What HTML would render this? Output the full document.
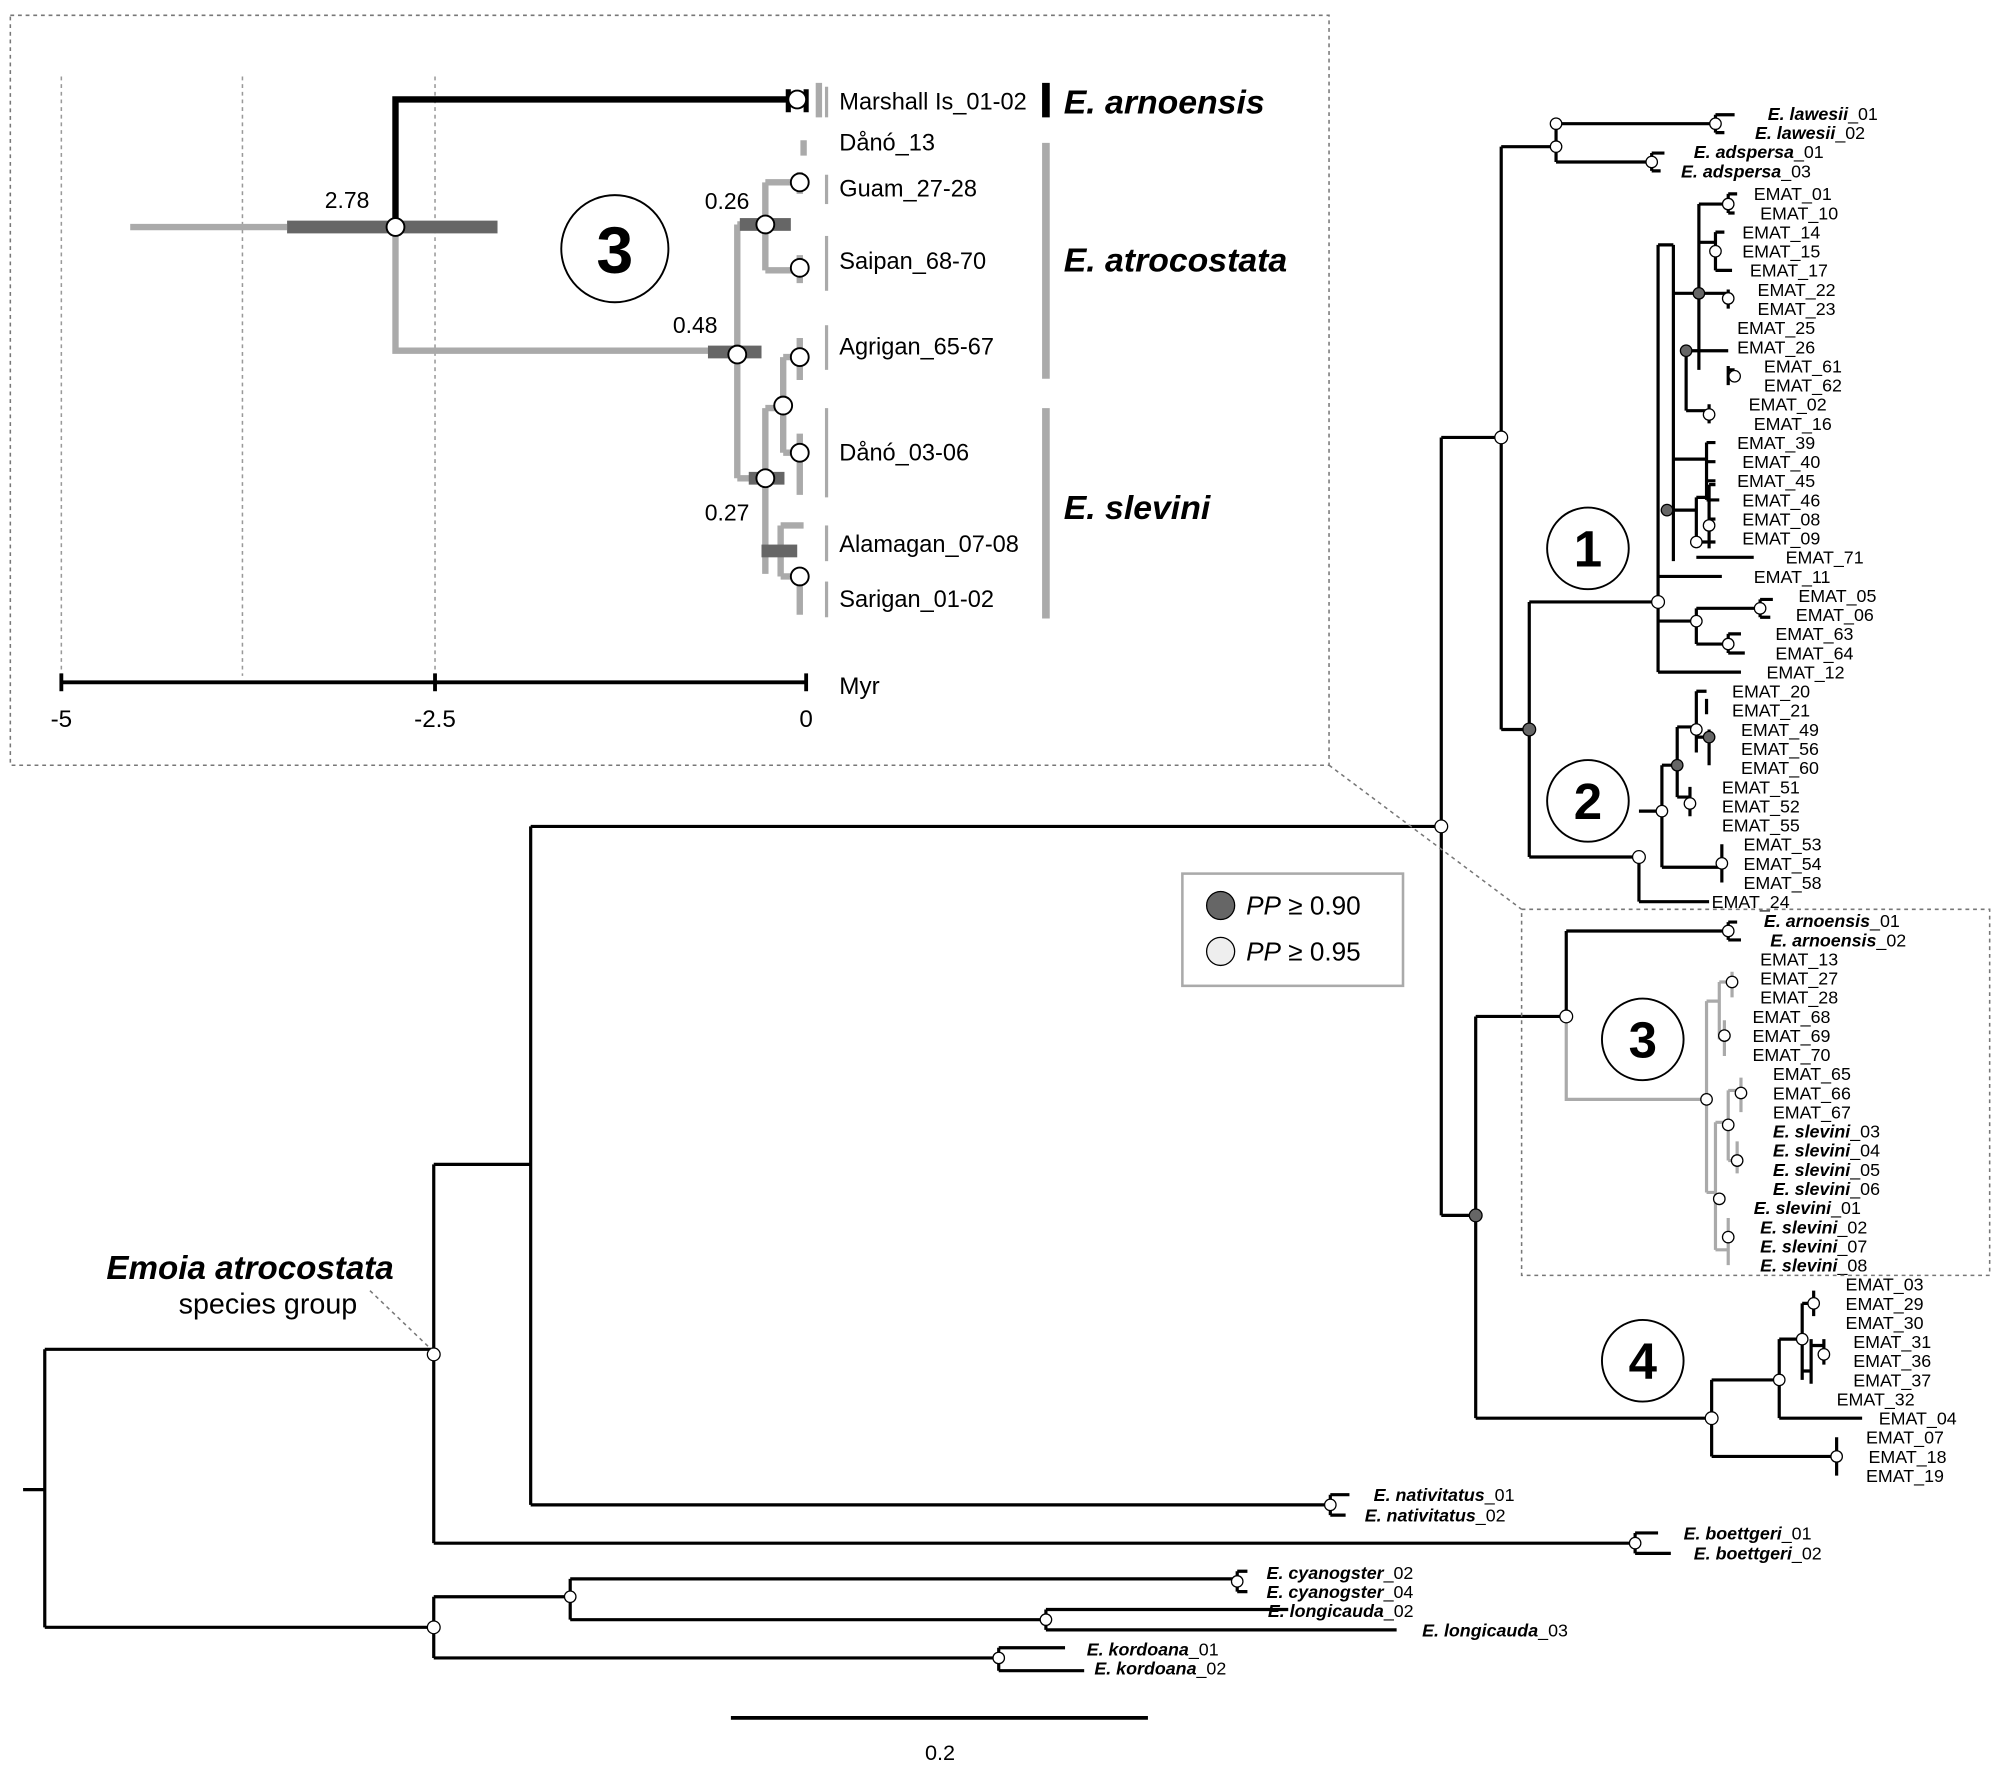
<!DOCTYPE html>
<html><head><meta charset="utf-8"><style>
html,body{margin:0;padding:0;background:#fff;}
svg{display:block;}
text{font-family:"Liberation Sans",sans-serif;fill:#000;}
.t{font-size:14px;}
.bi{font-weight:bold;font-style:italic;}
</style></head><body>
<svg width="2000" height="1774" viewBox="0 0 1568 1391" xmlns="http://www.w3.org/2000/svg">
<rect width="1568" height="1391" fill="#fff"/>
<!-- inset box -->
<rect x="8" y="12" width="1034" height="588" fill="none" stroke="#777" stroke-dasharray="3,3" stroke-width="1.2"/>
<g stroke="#999" stroke-dasharray="3,3" stroke-width="1.2">
<line x1="48" y1="60" x2="48" y2="530"/><line x1="190" y1="60" x2="190" y2="530"/><line x1="341" y1="60" x2="341" y2="530"/>
</g>
<g stroke="#000" stroke-width="3">
<line x1="48" y1="535" x2="632" y2="535"/>
<line x1="48" y1="528" x2="48" y2="542"/><line x1="341" y1="528" x2="341" y2="542"/><line x1="632" y1="528" x2="632" y2="542"/>
</g>
<text x="48" y="570" font-size="19" text-anchor="middle">-5</text>
<text x="341" y="570" font-size="19" text-anchor="middle">-2.5</text>
<text x="632" y="570" font-size="19" text-anchor="middle">0</text>
<text x="658" y="544" font-size="19">Myr</text>
<!-- inset tree -->
<line x1="102" y1="178" x2="225" y2="178" stroke="#aaa" stroke-width="5"/>
<rect x="225" y="173" width="165" height="10" fill="#666"/>
<path d="M310 178 V78 H625" stroke="#000" stroke-width="5" fill="none"/>
<g stroke="#aaa" stroke-width="5" fill="none">
<path d="M310 178 V275 H578"/>
<path d="M578 176 V375"/>
<path d="M578 176 H600 M600 143 V212 M600 143 H627 M600 212 H627"/>
<path d="M578 375 H600 M600 320 V450 M600 320 H614 M614 280 V355 M614 280 H627 M614 355 H627 M600 432 H612 M612 412 V452 M612 412 H630 M612 452 H627"/>
<path d="M627 135 V152 M627 200 V222 M627 265 V298 M627 340 V388 M627 445 V482 M630 110 V122"/>
<path d="M642 65 V92"/>
</g>
<rect x="555" y="271" width="42" height="10" fill="#666"/>
<rect x="580" y="171" width="40" height="10" fill="#666"/>
<rect x="587" y="370" width="28" height="10" fill="#666"/>
<rect x="597" y="427" width="28" height="10" fill="#666"/>
<path d="M618 70 V88 M632 70 V88" stroke="#000" stroke-width="4"/>
<g fill="#fff" stroke="#000" stroke-width="1.5">
<circle cx="310" cy="178" r="7"/><circle cx="578" cy="278" r="7"/><circle cx="600" cy="176" r="7"/><circle cx="600" cy="375" r="7"/>
<circle cx="625" cy="78" r="7"/><circle cx="627" cy="143" r="7"/><circle cx="627" cy="210" r="7"/><circle cx="627" cy="280" r="7"/>
<circle cx="614" cy="318" r="7"/><circle cx="627" cy="355" r="7"/><circle cx="627" cy="452" r="7"/>
</g>
<text x="272" y="163" font-size="18" text-anchor="middle">2.78</text>
<text x="545" y="261" font-size="18" text-anchor="middle">0.48</text>
<text x="570" y="164" font-size="18" text-anchor="middle">0.26</text>
<text x="570" y="408" font-size="18" text-anchor="middle">0.27</text>
<g font-size="18.5">
<text x="658" y="86">Marshall Is_01-02</text><text x="658" y="118">Dånó_13</text><text x="658" y="154">Guam_27-28</text>
<text x="658" y="211">Saipan_68-70</text><text x="658" y="278">Agrigan_65-67</text><text x="658" y="361">Dånó_03-06</text>
<text x="658" y="433">Alamagan_07-08</text><text x="658" y="476">Sarigan_01-02</text>
</g>
<g stroke="#aaa" stroke-width="2.5">
<line x1="648" y1="68" x2="648" y2="92"/><line x1="648" y1="137" x2="648" y2="160"/><line x1="648" y1="185" x2="648" y2="228"/>
<line x1="648" y1="255" x2="648" y2="290"/><line x1="648" y1="320" x2="648" y2="390"/><line x1="648" y1="412" x2="648" y2="440"/><line x1="648" y1="456" x2="648" y2="484"/>
</g>
<line x1="820" y1="65" x2="820" y2="92" stroke="#000" stroke-width="6"/>
<line x1="820" y1="112" x2="820" y2="297" stroke="#aaa" stroke-width="6"/>
<line x1="820" y1="320" x2="820" y2="485" stroke="#aaa" stroke-width="6"/>
<text x="834" y="89" font-size="26.5" class="bi">E. arnoensis</text>
<text x="834" y="213" font-size="26.5" class="bi">E. atrocostata</text>
<text x="834" y="407" font-size="26.5" class="bi">E. slevini</text>
<circle cx="482" cy="195" r="42" fill="#fff" stroke="#000" stroke-width="1.5"/>
<text x="482" y="214" font-size="52" font-weight="bold" text-anchor="middle">3</text>

<!-- main tree black -->
<g stroke="#000" stroke-width="2.5" fill="none">
<path d="M18 1168 H35 M35 1058 V1276 M35 1058 H340 M340 913 V1210 M340 913 H416 M416 648 V1180 M416 648 H1130 M416 1180 H1043 M340 1210 H1282"/>
<path d="M1043 1172 H1058 M1043 1188 H1055 M1043 1172 V1188 M1282 1202 H1300 M1282 1218 H1310 M1282 1202 V1218"/>
<path d="M35 1276 H340 M340 1252 V1300 M340 1252 H447 M447 1238 V1270 M447 1238 H970 M970 1232 V1248 M970 1232 H978 M970 1248 H978 M447 1270 H820 M820 1262 V1278 M820 1262 H1010 M820 1278 H1095 M340 1300 H783 M783 1292 V1310 M783 1292 H835 M783 1310 H850"/>
<path d="M1130 343 V953 M1130 343 H1177 M1177 115 V572 M1177 115 H1220 M1220 97 V127 M1220 97 H1345 M1345 90 V104 M1345 90 H1360 M1345 104 H1352 M1220 127 H1295 M1295 120 V134 M1295 120 H1305 M1295 134 H1302"/>
<path d="M1177 572 H1199 M1199 472 V672 M1199 472 H1300 M1199 672 H1285"/>
<!-- clade 1 -->
<path d="M1300 192 V527 M1300 527 H1365 M1300 487 H1330 M1330 477 V505 M1330 477 H1380 M1380 470 V484 M1380 470 H1390 M1380 484 H1388 M1330 505 H1355 M1355 497 V512 M1355 497 H1365 M1355 512 H1368 M1300 452 H1350 M1307 400 H1330 M1330 390 V425 M1330 390 H1340 M1340 380 V430 M1340 380 H1345 M1340 407 H1345 M1330 425 H1345 M1330 437 H1375"/>
<path d="M1300 192 H1312 M1312 192 V440 M1312 230 H1332 M1332 160 V290 M1332 160 H1355 M1355 152 V167 M1355 152 H1362 M1355 167 H1360 M1332 190 H1345 M1345 182 V212 M1345 182 H1352 M1345 212 H1358 M1332 230 H1355 M1355 227 V242 M1332 275 H1322 M1322 275 V322 M1322 275 H1355 M1355 287 V302 M1355 290 H1360 M1322 322 H1340 M1340 317 V332 M1312 360 H1338 M1338 347 V392 M1338 347 H1345 M1338 362 H1345 M1338 377 H1345 M1338 392 H1348"/>
<!-- clade 2 -->
<path d="M1285 672 V707 M1285 707 H1340 M1285 636 H1303 M1303 600 V680 M1303 600 H1315 M1315 570 V625 M1315 570 H1330 M1330 542 V590 M1330 542 H1338 M1338 548 V560 M1330 578 H1340 M1340 572 V600 M1315 625 H1325 M1325 617 V640 M1303 680 H1350 M1350 662 V692"/>
<!-- clade 3 black -->
<path d="M1130 953 H1157 M1157 797 V1112 M1157 797 H1228 M1228 730 V797 M1228 730 H1355 M1355 723 V737 M1355 723 H1362 M1355 737 H1365"/>
<!-- clade 4 -->
<path d="M1157 1112 H1342 M1342 1082 V1142 M1342 1082 H1395 M1395 1050 V1112 M1395 1112 H1460 M1395 1050 H1413 M1413 1022 V1082 M1413 1022 H1422 M1422 1012 V1032 M1413 1075 H1420 M1420 1050 V1085 M1420 1055 H1430 M1430 1050 V1070 M1342 1142 H1440 M1440 1127 V1157"/>
</g>
<g stroke="#aaa" stroke-width="2.5" fill="none">
<path d="M1228 797 V862 H1338 M1338 785 V935 M1338 785 H1348 M1348 770 V815 M1348 770 H1358 M1358 762 V782 M1348 810 H1352 M1352 800 V828 M1338 935 H1345 M1345 880 V980 M1345 880 H1355 M1355 855 V910 M1355 855 H1365 M1365 845 V872 M1355 910 H1362 M1362 895 V920 M1345 980 H1355 M1355 955 V992"/>
</g>
<!-- nodes -->
<g stroke="#000" stroke-width="1" >
<g fill="#fff">
<circle cx="1130" cy="648" r="5"/><circle cx="1177" cy="343" r="5"/><circle cx="1220" cy="97" r="4.5"/><circle cx="1220" cy="115" r="4.5"/><circle cx="1345" cy="97" r="4.5"/><circle cx="1295" cy="127" r="4.5"/>
<circle cx="1300" cy="472" r="5"/><circle cx="1330" cy="487" r="4.5"/><circle cx="1380" cy="477" r="4.5"/><circle cx="1355" cy="505" r="4.5"/><circle cx="1330" cy="425" r="4.5"/><circle cx="1340" cy="412" r="4.5"/>
<circle cx="1355" cy="160" r="4.5"/><circle cx="1345" cy="197" r="4.5"/><circle cx="1355" cy="234" r="4.5"/><circle cx="1360" cy="295" r="4.5"/><circle cx="1340" cy="325" r="4.5"/>
<circle cx="1285" cy="672" r="5"/><circle cx="1303" cy="636" r="4.5"/><circle cx="1330" cy="572" r="4.5"/><circle cx="1325" cy="630" r="4.5"/><circle cx="1350" cy="677" r="4.5"/>
<circle cx="1228" cy="797" r="5"/><circle cx="1355" cy="730" r="4.5"/><circle cx="1338" cy="862" r="4.5"/><circle cx="1358" cy="770" r="4.5"/><circle cx="1352" cy="812" r="4.5"/><circle cx="1365" cy="857" r="4.5"/><circle cx="1355" cy="882" r="4.5"/><circle cx="1362" cy="910" r="4.5"/><circle cx="1348" cy="940" r="4.5"/><circle cx="1355" cy="970" r="4.5"/>
<circle cx="1342" cy="1112" r="5"/><circle cx="1395" cy="1082" r="4.5"/><circle cx="1413" cy="1050" r="4.5"/><circle cx="1422" cy="1022" r="4.5"/><circle cx="1430" cy="1062" r="4.5"/><circle cx="1440" cy="1142" r="4.5"/>
<circle cx="1043" cy="1180" r="4.5"/><circle cx="1282" cy="1210" r="4.5"/><circle cx="340" cy="1062" r="5"/><circle cx="340" cy="1276" r="5"/><circle cx="447" cy="1252" r="4.5"/><circle cx="970" cy="1240" r="4.5"/><circle cx="820" cy="1270" r="4.5"/><circle cx="783" cy="1300" r="4.5"/>
</g>
<g fill="#666">
<circle cx="1199" cy="572" r="5"/><circle cx="1157" cy="953" r="5"/><circle cx="1332" cy="230" r="4.5"/><circle cx="1322" cy="275" r="4.5"/><circle cx="1307" cy="400" r="4.5"/><circle cx="1315" cy="600" r="4.5"/><circle cx="1340" cy="578" r="4.5"/>
</g></g>
<!-- labels -->
<g class="t">
<text x="1386" y="94"><tspan class="bi">E. lawesii</tspan>_01</text>
<text x="1376" y="109"><tspan class="bi">E. lawesii</tspan>_02</text>
<text x="1328" y="124"><tspan class="bi">E. adspersa</tspan>_01</text>
<text x="1318" y="139"><tspan class="bi">E. adspersa</tspan>_03</text>
</g>
<g class="t" font-size="14">
<text x="1375" y="157">EMAT_01</text><text x="1380" y="172">EMAT_10</text><text x="1366" y="187">EMAT_14</text><text x="1366" y="202">EMAT_15</text><text x="1372" y="217">EMAT_17</text>
<text x="1378" y="232">EMAT_22</text><text x="1378" y="247">EMAT_23</text><text x="1362" y="262">EMAT_25</text><text x="1362" y="277">EMAT_26</text><text x="1383" y="292">EMAT_61</text>
<text x="1383" y="307">EMAT_62</text><text x="1371" y="322">EMAT_02</text><text x="1375" y="337">EMAT_16</text><text x="1362" y="352">EMAT_39</text><text x="1366" y="367">EMAT_40</text>
<text x="1362" y="382">EMAT_45</text><text x="1366" y="397">EMAT_46</text><text x="1366" y="412">EMAT_08</text><text x="1366" y="427">EMAT_09</text><text x="1400" y="442">EMAT_71</text>
<text x="1375" y="457">EMAT_11</text><text x="1410" y="472">EMAT_05</text><text x="1408" y="487">EMAT_06</text><text x="1392" y="502">EMAT_63</text><text x="1392" y="517">EMAT_64</text>
<text x="1385" y="532">EMAT_12</text>
<text x="1358" y="547">EMAT_20</text><text x="1358" y="562">EMAT_21</text><text x="1365" y="577">EMAT_49</text><text x="1365" y="592">EMAT_56</text><text x="1365" y="607">EMAT_60</text>
<text x="1350" y="622">EMAT_51</text><text x="1350" y="637">EMAT_52</text><text x="1350" y="652">EMAT_55</text><text x="1367" y="667">EMAT_53</text><text x="1367" y="682">EMAT_54</text>
<text x="1367" y="697">EMAT_58</text><text x="1342" y="712">EMAT_24</text>
<text x="1383" y="727"><tspan class="bi">E. arnoensis</tspan>_01</text><text x="1388" y="742"><tspan class="bi">E. arnoensis</tspan>_02</text>
<text x="1380" y="757">EMAT_13</text><text x="1380" y="772">EMAT_27</text><text x="1380" y="787">EMAT_28</text><text x="1374" y="802">EMAT_68</text><text x="1374" y="817">EMAT_69</text><text x="1374" y="832">EMAT_70</text>
<text x="1390" y="847">EMAT_65</text><text x="1390" y="862">EMAT_66</text><text x="1390" y="877">EMAT_67</text>
<text x="1390" y="892"><tspan class="bi">E. slevini</tspan>_03</text><text x="1390" y="907"><tspan class="bi">E. slevini</tspan>_04</text><text x="1390" y="922"><tspan class="bi">E. slevini</tspan>_05</text><text x="1390" y="937"><tspan class="bi">E. slevini</tspan>_06</text>
<text x="1375" y="952"><tspan class="bi">E. slevini</tspan>_01</text><text x="1380" y="967"><tspan class="bi">E. slevini</tspan>_02</text><text x="1380" y="982"><tspan class="bi">E. slevini</tspan>_07</text><text x="1380" y="997"><tspan class="bi">E. slevini</tspan>_08</text>
<text x="1447" y="1012">EMAT_03</text><text x="1447" y="1027">EMAT_29</text><text x="1447" y="1042">EMAT_30</text><text x="1453" y="1057">EMAT_31</text><text x="1453" y="1072">EMAT_36</text>
<text x="1453" y="1087">EMAT_37</text><text x="1440" y="1102">EMAT_32</text><text x="1473" y="1117">EMAT_04</text><text x="1463" y="1132">EMAT_07</text><text x="1465" y="1147">EMAT_18</text><text x="1463" y="1162">EMAT_19</text>
<text x="1077" y="1177"><tspan class="bi">E. nativitatus</tspan>_01</text><text x="1070" y="1193"><tspan class="bi">E. nativitatus</tspan>_02</text>
<text x="1320" y="1207"><tspan class="bi">E. boettgeri</tspan>_01</text><text x="1328" y="1223"><tspan class="bi">E. boettgeri</tspan>_02</text>
<text x="993" y="1238"><tspan class="bi">E. cyanogster</tspan>_02</text><text x="993" y="1253"><tspan class="bi">E. cyanogster</tspan>_04</text>
<text x="994" y="1268"><tspan class="bi">E. longicauda</tspan>_02</text><text x="1115" y="1283"><tspan class="bi">E. longicauda</tspan>_03</text>
<text x="852" y="1298"><tspan class="bi">E. kordoana</tspan>_01</text><text x="858" y="1313"><tspan class="bi">E. kordoana</tspan>_02</text>
</g>
<!-- clade circles -->
<g fill="#fff" stroke="#000" stroke-width="1.5">
<circle cx="1245" cy="430" r="32"/><circle cx="1245" cy="628" r="32"/><circle cx="1288" cy="815" r="32"/><circle cx="1288" cy="1067" r="32"/>
</g>
<g font-size="40" font-weight="bold" text-anchor="middle">
<text x="1245" y="444">1</text><text x="1245" y="642">2</text><text x="1288" y="829">3</text><text x="1288" y="1081">4</text>
</g>
<rect x="1193" y="713" width="367" height="287" fill="none" stroke="#777" stroke-dasharray="3,3" stroke-width="1.2"/>
<line x1="1042" y1="600" x2="1193" y2="713" stroke="#777" stroke-dasharray="3,3" stroke-width="1.2"/>
<!-- legend -->
<rect x="927" y="685" width="173" height="88" fill="#fff" stroke="#aaa" stroke-width="2"/>
<circle cx="957" cy="710" r="11" fill="#666" stroke="#000"/>
<circle cx="957" cy="746" r="11" fill="#eee" stroke="#000"/>
<text x="977" y="717" font-size="20.5"><tspan font-style="italic">PP</tspan> ≥ 0.90</text>
<text x="977" y="753" font-size="20.5"><tspan font-style="italic">PP</tspan> ≥ 0.95</text>
<!-- group label -->
<text x="196" y="1003" font-size="26" class="bi" text-anchor="middle">Emoia atrocostata</text>
<text x="210" y="1030" font-size="22.5" text-anchor="middle">species group</text>
<line x1="290" y1="1012" x2="338" y2="1058" stroke="#777" stroke-dasharray="3,3" stroke-width="1.2"/>
<line x1="573" y1="1347" x2="900" y2="1347" stroke="#000" stroke-width="3"/>
<text x="737" y="1380" font-size="17" text-anchor="middle">0.2</text>
</svg>
</body></html>
